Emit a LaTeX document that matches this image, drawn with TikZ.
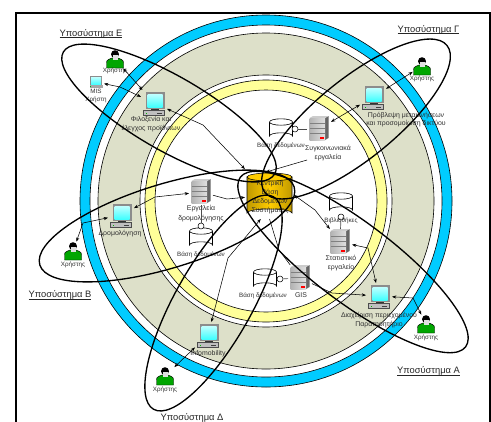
\documentclass[tikz,border=0pt]{standalone}
\usepackage{fontspec}
\setmainfont{Liberation Sans}
\usetikzlibrary{arrows.meta}
\definecolor{ringblue}{HTML}{00CCFF}
\definecolor{ringolive}{HTML}{DDE0C9}
\definecolor{ringyellow}{HTML}{FFFF99}
\definecolor{coregold}{HTML}{FFCC00}
\definecolor{txt}{HTML}{303030}
\newcommand{\titleline}[1]{\setbox0\hbox{#1}\rlap{\rule[-1.2pt]{\wd0}{0.4pt}}#1}
\tikzset{
  x=0.75pt,y=-0.75pt,
  ring/.style={draw=black,line width=0.45pt},
  orbit/.style={draw=black,line width=1.0pt},
  link/.style={draw=black,line width=0.4pt,{Stealth[length=3.2pt,width=2.4pt]}-{Stealth[length=3.2pt,width=2.4pt]}},
  linkto/.style={draw=black,line width=0.4pt,-{Stealth[length=3.2pt,width=2.4pt]}},
  plain/.style={draw=black!70,line width=0.5pt},
  lab/.style={font=\fontsize{5.2pt}{6pt}\selectfont,text=txt,inner sep=0pt,align=center},
  labs/.style={font=\fontsize{4.7pt}{6pt}\selectfont,text=txt,inner sep=0pt,align=center},
  title/.style={font=\fontsize{7pt}{8pt}\selectfont,text=black!85,inner sep=0pt},
  compbox/.style={minimum width=16.5pt,minimum height=16.5pt,inner sep=0pt,outer sep=1.5pt},
  smallbox/.style={minimum width=10pt,minimum height=9pt,inner sep=0pt,outer sep=1pt},
  servbox/.style={minimum width=15pt,minimum height=16.5pt,inner sep=0pt,outer sep=1.5pt},
  userbox/.style={minimum width=13pt,minimum height=13pt,inner sep=0pt,outer sep=0.5pt},
  dbbox/.style={minimum width=17pt,minimum height=15.5pt,inner sep=0pt},
  knob/.style={circle,draw=black,fill=white,line width=0.4pt,minimum size=4.5pt,inner sep=0pt},
  comp/.pic={
    \fill[black!45] (-8.5,-11) rectangle (10.5,6);
    \shade[top color=cyan!25,bottom color=cyan!75!white] (-6.5,-9) rectangle (8.5,4);
    \fill[black!80] (-3,6) rectangle (5,7.5);
    \draw[black!70,fill=black!25,line width=0.3pt] (-10.5,7.5) rectangle (10.5,12.5);
    \fill[green!70!black] (-8.5,9.5) rectangle (-7,10.5);
    \fill[black!75] (3,9.5) rectangle (8,10.5);
  },
  smallcomp/.pic={
    \fill[black!45] (-6,-6) rectangle (6,3);
    \shade[top color=cyan!25,bottom color=cyan!75!white] (-5,-5) rectangle (5,2.5);
    \fill[black!35] (-6.5,3) rectangle (6.5,6);
    \fill[green!70!black] (-6.5,4) rectangle (-5.5,5);
  },
  serv/.pic={
    \fill[black!60] (6,-11) -- (9.5,-13) -- (9.5,9) -- (6,11) -- cycle;
    \fill[black!20] (-9.5,-11) -- (-6,-13) -- (9.5,-13) -- (6,-11) -- cycle;
    \shade[left color=black!30,right color=black!12] (-9.5,-11) rectangle (6,11);
    \draw[black!50,line width=0.3pt] (-9.5,-6) -- (6,-6) (-9.5,-1) -- (6,-1) (-9.5,4) -- (6,4);
    \fill[red] (1,7.5) rectangle (4.5,10);
  },
  cyl/.pic={
    \draw[black,fill=white,line width=0.45pt] (-11.5,-7) -- (-11.5,7) arc[start angle=180,end angle=360,x radius=11.5,y radius=3.2] -- (11.5,-7);
    \draw[black,fill=white,line width=0.45pt] (0,-7) ellipse [x radius=11.5,y radius=3.2];
  },
  user/.pic={
    \draw[black,fill=green!65!black,line width=0.35pt] (-8.5,9) -- (-8.5,3.5) .. controls (-8.5,0.5) and (-5,0) .. (-3,-1) -- (3,-1) .. controls (5,0) and (8.5,0.5) .. (8.5,3.5) -- (8.5,9) -- cycle;
    \fill[black] (0,-4.8) circle [radius=4];
    \fill[black!12] (-2.5,-4.5) rectangle (2.5,0.5);
  }
}
\begin{document}
\begin{tikzpicture}
\useasboundingbox (0,0) rectangle (491,421);
% frame
\draw[black,line width=1.1pt] (16,425) -- (16,13) -- (490,13) -- (490,425);
% rings
\coordinate (ctr) at (266,201);
\draw[ring,fill=ringblue] (ctr) circle [radius=186];
\draw[ring,fill=white] (ctr) circle [radius=176];
\draw[ring,fill=ringolive] (ctr) circle [radius=168];
\draw[ring,fill=white] (ctr) circle [radius=126];
\draw[ring,fill=ringyellow] (ctr) circle [radius=121];
\draw[ring,fill=white] (ctr) circle [radius=111];

% central base
\shade[left color=coregold!75!black,right color=coregold!75!black,middle color=coregold,draw=black,line width=0.4pt]
  (247,177) -- (247,213) arc[start angle=180,end angle=360,x radius=22.5,y radius=4] -- (292,177) -- cycle;
\draw[black,fill=coregold,line width=0.4pt] (269.5,177) ellipse [x radius=22.5,y radius=4];
\node[minimum width=33.75pt,minimum height=33pt,inner sep=0pt,outer sep=1.5pt] (core) at (269.5,195) {};
\node[lab] (coretxt1) at (270,184) {Κεντρική};
\node[lab] (coretxt2) at (270,193) {Βάση};
\node[lab] (coretxt3) at (270,202) {Δεδομένων};
\node[lab] (coretxt4) at (270,211) {Συστήματος};

% icons: subsystem E
\node[userbox] (userE) at (115,59) {}; \pic at (userE) {user};
\node[smallbox] (mis) at (96,82) {}; \pic at (mis) {smallcomp};
\node[compbox] (hosp) at (154,103) {}; \pic at (hosp) {comp};
% subsystem B
\node[userbox] (userB) at (73,251) {}; \pic at (userB) {user};
\node[compbox] (rout) at (121,215) {}; \pic at (rout) {comp};
\node[servbox] (srvB) at (201,192) {}; \pic at (srvB) {serv};
\node[dbbox] (dbB) at (201,238) {}; \pic at (dbB) {cyl};
\node[knob] (kB) at (201,226) {};
% subsystem D
\node[userbox] (userD) at (165,376) {}; \pic at (userD) {user};
\node[compbox] (info) at (208,335) {}; \pic at (info) {comp};
% subsystem G
\node[userbox] (userG) at (422,66) {}; \pic at (userG) {user};
\node[compbox] (fore) at (373,97) {}; \pic at (fore) {comp};
\node[servbox] (srvG) at (319,129) {}; \pic at (srvG) {serv};
\node[dbbox] (dbG) at (281,129) {}; \pic at (dbG) {cyl};
\node[knob] (kG) at (295,129) {};
% subsystem A
\node[userbox] (userA) at (426,324) {}; \pic at (userA) {user};
\node[compbox] (cont) at (379,296) {}; \pic at (cont) {comp};
\node[servbox] (srvS) at (340,242) {}; \pic at (srvS) {serv};
\node[dbbox] (dbS) at (341,203) {}; \pic at (dbS) {cyl};
\node[knob] (kS) at (341,217) {};
\node[servbox] (srvM) at (300,278) {}; \pic at (srvM) {serv};
\node[dbbox] (dbM) at (265,279) {}; \pic at (dbM) {cyl};
\node[knob] (kM) at (280,279) {};

% labels
\node[labs] (lu1) at (115,71) {Χρήστης};
\node[labs] (lmis) at (96,91.5) {MIS};
\node[labs] (lmis2) at (96,100) {Χρήστη};
\node[lab] (lhosp) at (151,124) {Φιλοξενία και\\[0.6pt]έλεγχος προϊόντων};
\node[lab] (lsrvB) at (201,213.5) {Εργαλεία\\[1.6pt]δρομολόγησης};
\node[labs] (ldbB) at (201,254.5) {Βάση δεδομένων};
\node[lab] (lrout) at (120,234) {Δρομολόγηση};
\node[labs] (lu2) at (73,265) {Χρήστης};
\node[lab] (linfo) at (208,353.5) {Infomobility};
\node[labs] (lu3) at (165,390) {Χρήστης};
\node[labs] (ldbM) at (263,295.5) {Βάση δεδομένων};
\node[lab] (lgis) at (301,295.5) {GIS};
\node[lab] (lcont) at (379,320) {Διαχείριση περιεχομένου\\[0.6pt]Παρατηρητήριο};
\node[labs] (lu4) at (426,338) {Χρήστης};
\node[lab] (lsrvS) at (341,263.5) {Στατιστικό\\[0.6pt]εργαλείο};
\node[labs] (ldbS) at (341,221) {Βιβλιοθήκες};
\node[labs] (ldbG) at (281,146) {Βάση δεδομένων};
\node[lab] (lsrvG) at (328,153.5) {Συγκοινωνιακά\\[0.6pt]εργαλεία};
\node[lab] (lfore) at (406,119.5) {Πρόβλεψη μετακινήσεων\\[-0.2pt]και προσομοίωση δικτύου};
\node[labs] (lu5) at (422,79) {Χρήστης};

% knob stems
\draw[plain] (kB) -- (srvB);
\draw[plain] (kG) -- (srvG);
\draw[plain] (kS) -- (srvS);
\draw[plain] (kM) -- (srvM);

% bends
\coordinate (b1) at (120,87);
\coordinate (b2) at (203,125);
\coordinate (b3) at (155,197);
\coordinate (b4) at (227,199);
\coordinate (b5) at (83,223);
\coordinate (b6) at (228,258);
\coordinate (b7) at (307,160);
\coordinate (b8) at (315,210);
\coordinate (b9) at (368,248);
\coordinate (b10) at (332,293);
\coordinate (b11) at (413,298);
\coordinate (b12) at (279,250);

% connectors
\draw[link] (mis) -- (b1) -- (hosp);
\draw[link] (userE) -- (hosp);
\draw[link,shorten >=2pt] (hosp) -- (b2) -- (core);
\draw[link] (rout) -- (b3) -- (srvB);
\draw[linkto] (srvB) -- (b4) -- (core);
\draw[link] (userB) -- (b5) -- (rout);
\draw[link] (core.250) -- (b6) -- (info);
\draw[link] (userD) -- (info);
\draw[link] (fore) -- (srvG);
\draw[link] (userG) -- (fore);
\draw[linkto,shorten >=-3pt] (lsrvG) -- (b7) -- (core.north);
\draw[link] (core.east) -- (b8) -- (srvS);
\draw[link] (srvS) -- (b9) -- (cont);
\draw[linkto] (srvM) -- (b10) -- (cont);
\draw[link] (cont) -- (b11) -- (userA);
\draw[plain,black,line width=0.4pt] (core.south) -- (b12) -- (srvM);

% subsystem ellipses
\draw[orbit] (169,113) ellipse [x radius=122,y radius=37,rotate=-30];
\draw[orbit] (356,119) ellipse [x radius=117,y radius=40,rotate=39];
\draw[orbit] (167,226) ellipse [x radius=133,y radius=42,rotate=17];
\draw[orbit] (353,262) ellipse [x radius=141,y radius=40,rotate=-37];
\draw[orbit] (213.5,303) ellipse [x radius=122,y radius=38.5,rotate=60.6];

% titles
\node[title] (tE) at (91,33.5) {\titleline{Υποσύστημα Ε}};
\node[title] (tG) at (428.5,29.5) {\titleline{Υποσύστημα Γ}};
\node[title] (tB) at (60,295) {\titleline{Υποσύστημα Β}};
\node[title] (tA) at (428.5,371) {\titleline{Υποσύστημα Α}};
\node[title] (tD) at (192,418) {\titleline{Υποσύστημα Δ}};
\end{tikzpicture}
\end{document}
